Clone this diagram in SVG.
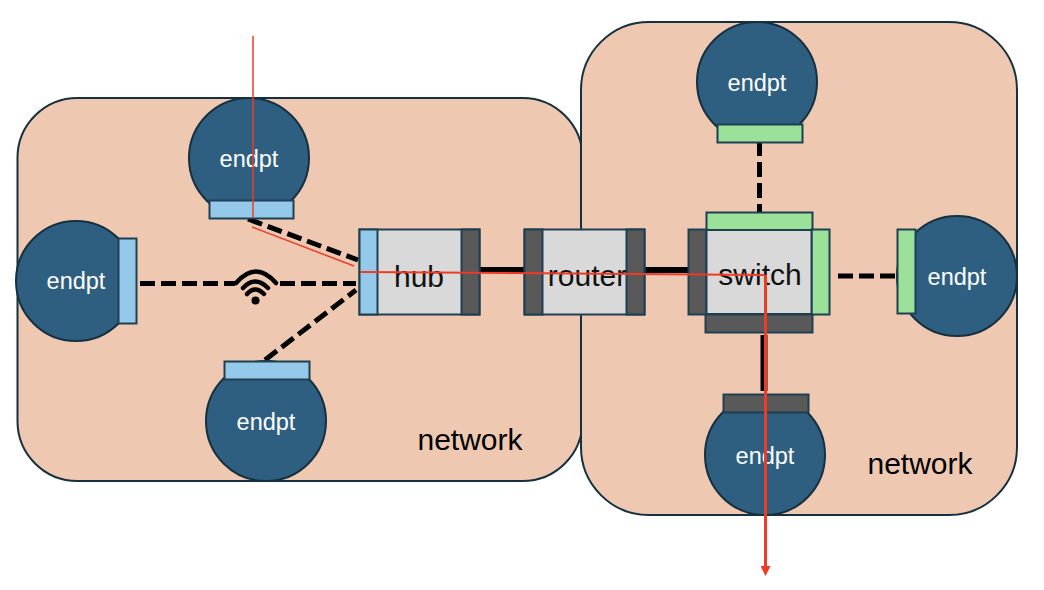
<svg xmlns="http://www.w3.org/2000/svg" width="1044" height="590" viewBox="0 0 1044 590">
<style>
text{font-family:"Liberation Sans",Arial,sans-serif;text-anchor:middle}
.net{fill:#efc8b1;stroke:#15303f;stroke-width:2}
.ep{fill:#2e5f80;stroke:#15303f;stroke-width:2}
.et{fill:#fff;font-size:23.500px}
.bl{fill:#94c9e9;stroke:#1f3f52;stroke-width:2}
.gr{fill:#9be199;stroke:#1f3f52;stroke-width:2}
.dk{fill:#595959;stroke:#1f3f52;stroke-width:2}
.bx{fill:#d9d9d9;stroke:#1f3f52;stroke-width:2}
.bt{fill:#111;font-size:30px}
.nt{fill:#000;font-size:30px}
.d{fill:none;stroke:#000;stroke-width:5;stroke-dasharray:15 6}
.s{fill:none;stroke:#000;stroke-width:6}
.r{fill:none;stroke:#ef3a25;stroke-width:2}
.w{fill:none;stroke:#000;stroke-width:4.500;stroke-linecap:round}
</style>
<defs><marker id="ah" markerUnits="userSpaceOnUse" markerWidth="10" markerHeight="10" refX="1" refY="5" orient="auto" viewBox="0 0 10 10"><path d="M0,0L10,5L0,10Z" fill="#ef3a25"/></marker></defs>
<g id="network-left"><rect class="net" x="17.500" y="98" width="565" height="383" rx="60"/><text class="nt" x="470" y="450">network</text></g>
<g id="network-right"><rect class="net" x="581" y="22" width="436" height="493" rx="68"/><text class="nt" x="920" y="474">network</text></g>
<g id="connectors">
<path class="d" d="M248,219L358,260"/>
<path class="d" d="M140,283.500H235"/>
<path class="d" d="M280,283.500H356"/>
<path class="d" d="M265,360L356,290"/>
<path class="s" d="M480,270H524"/>
<path class="s" d="M644,270H689"/>
<path class="d" d="M759.500,141V216"/>
<path class="d" d="M838,276H897"/>
<path class="s" d="M764,335V391" style="stroke-width:7"/>
</g>
<g id="wifi"><path class="w" d="M236,283Q256,260 276,283"/><path class="w" d="M243,288Q255,275 268,288"/><path class="w" d="M247,294Q255,285 264,294"/><circle cx="255.500" cy="300.500" r="4"/></g>
<g id="endpt-top-left"><circle class="ep" cx="249" cy="158" r="60"/><rect class="bl" x="209.500" y="200.500" width="84" height="18"/><text class="et" x="249" y="167">endpt</text></g>
<g id="endpt-left"><circle class="ep" cx="76" cy="281" r="60"/><rect class="bl" x="118.500" y="238.500" width="18" height="85"/><text class="et" x="76" y="289">endpt</text></g>
<g id="endpt-bottom-left"><circle class="ep" cx="266" cy="421" r="60"/><rect class="bl" x="224.500" y="361.500" width="85" height="18"/><text class="et" x="266" y="430">endpt</text></g>
<g id="endpt-top-right"><circle class="ep" cx="757" cy="82" r="60"/><rect class="gr" x="717.500" y="124.500" width="85" height="18"/><text class="et" x="757" y="91">endpt</text></g>
<g id="endpt-right"><circle class="ep" cx="957" cy="276" r="60"/><rect class="gr" x="897.500" y="229.500" width="18" height="84"/><text class="et" x="957" y="285">endpt</text></g>
<g id="endpt-bottom-right"><circle class="ep" cx="765" cy="455" r="60"/><rect class="dk" x="723.500" y="394.500" width="85" height="18"/><text class="et" x="765" y="464">endpt</text></g>
<g id="hub"><rect class="bx" x="359.500" y="229.500" width="120" height="85"/><rect class="bl" x="359.500" y="229.500" width="18" height="85"/><rect class="dk" x="461.500" y="229.500" width="18" height="85"/><text class="bt" x="419" y="287">hub</text></g>
<g id="router"><rect class="bx" x="524.500" y="229.500" width="120" height="85"/><rect class="dk" x="524.500" y="229.500" width="18" height="85"/><rect class="dk" x="626.500" y="229.500" width="18" height="85"/><text class="bt" x="587" y="286">router</text></g>
<g id="switch"><rect class="gr" x="706.500" y="212.500" width="106" height="18"/><rect class="dk" x="705.500" y="314.500" width="107" height="18"/><rect class="dk" x="688.500" y="229.500" width="18" height="85"/><rect class="gr" x="811.500" y="229.500" width="18" height="85"/><rect class="bx" x="706.500" y="230" width="105" height="84"/><text class="bt" x="760" y="285">switch</text></g>
<g id="route"><path class="r" d="M253,36V218" style="stroke-width:1.500"/><path class="r" d="M252,227L354,266" style="stroke-width:1.500"/><path class="r" d="M360,272L765,275"/><path class="r" d="M765.500,275V567" style="stroke-width:3" marker-end="url(#ah)"/></g>
</svg>
